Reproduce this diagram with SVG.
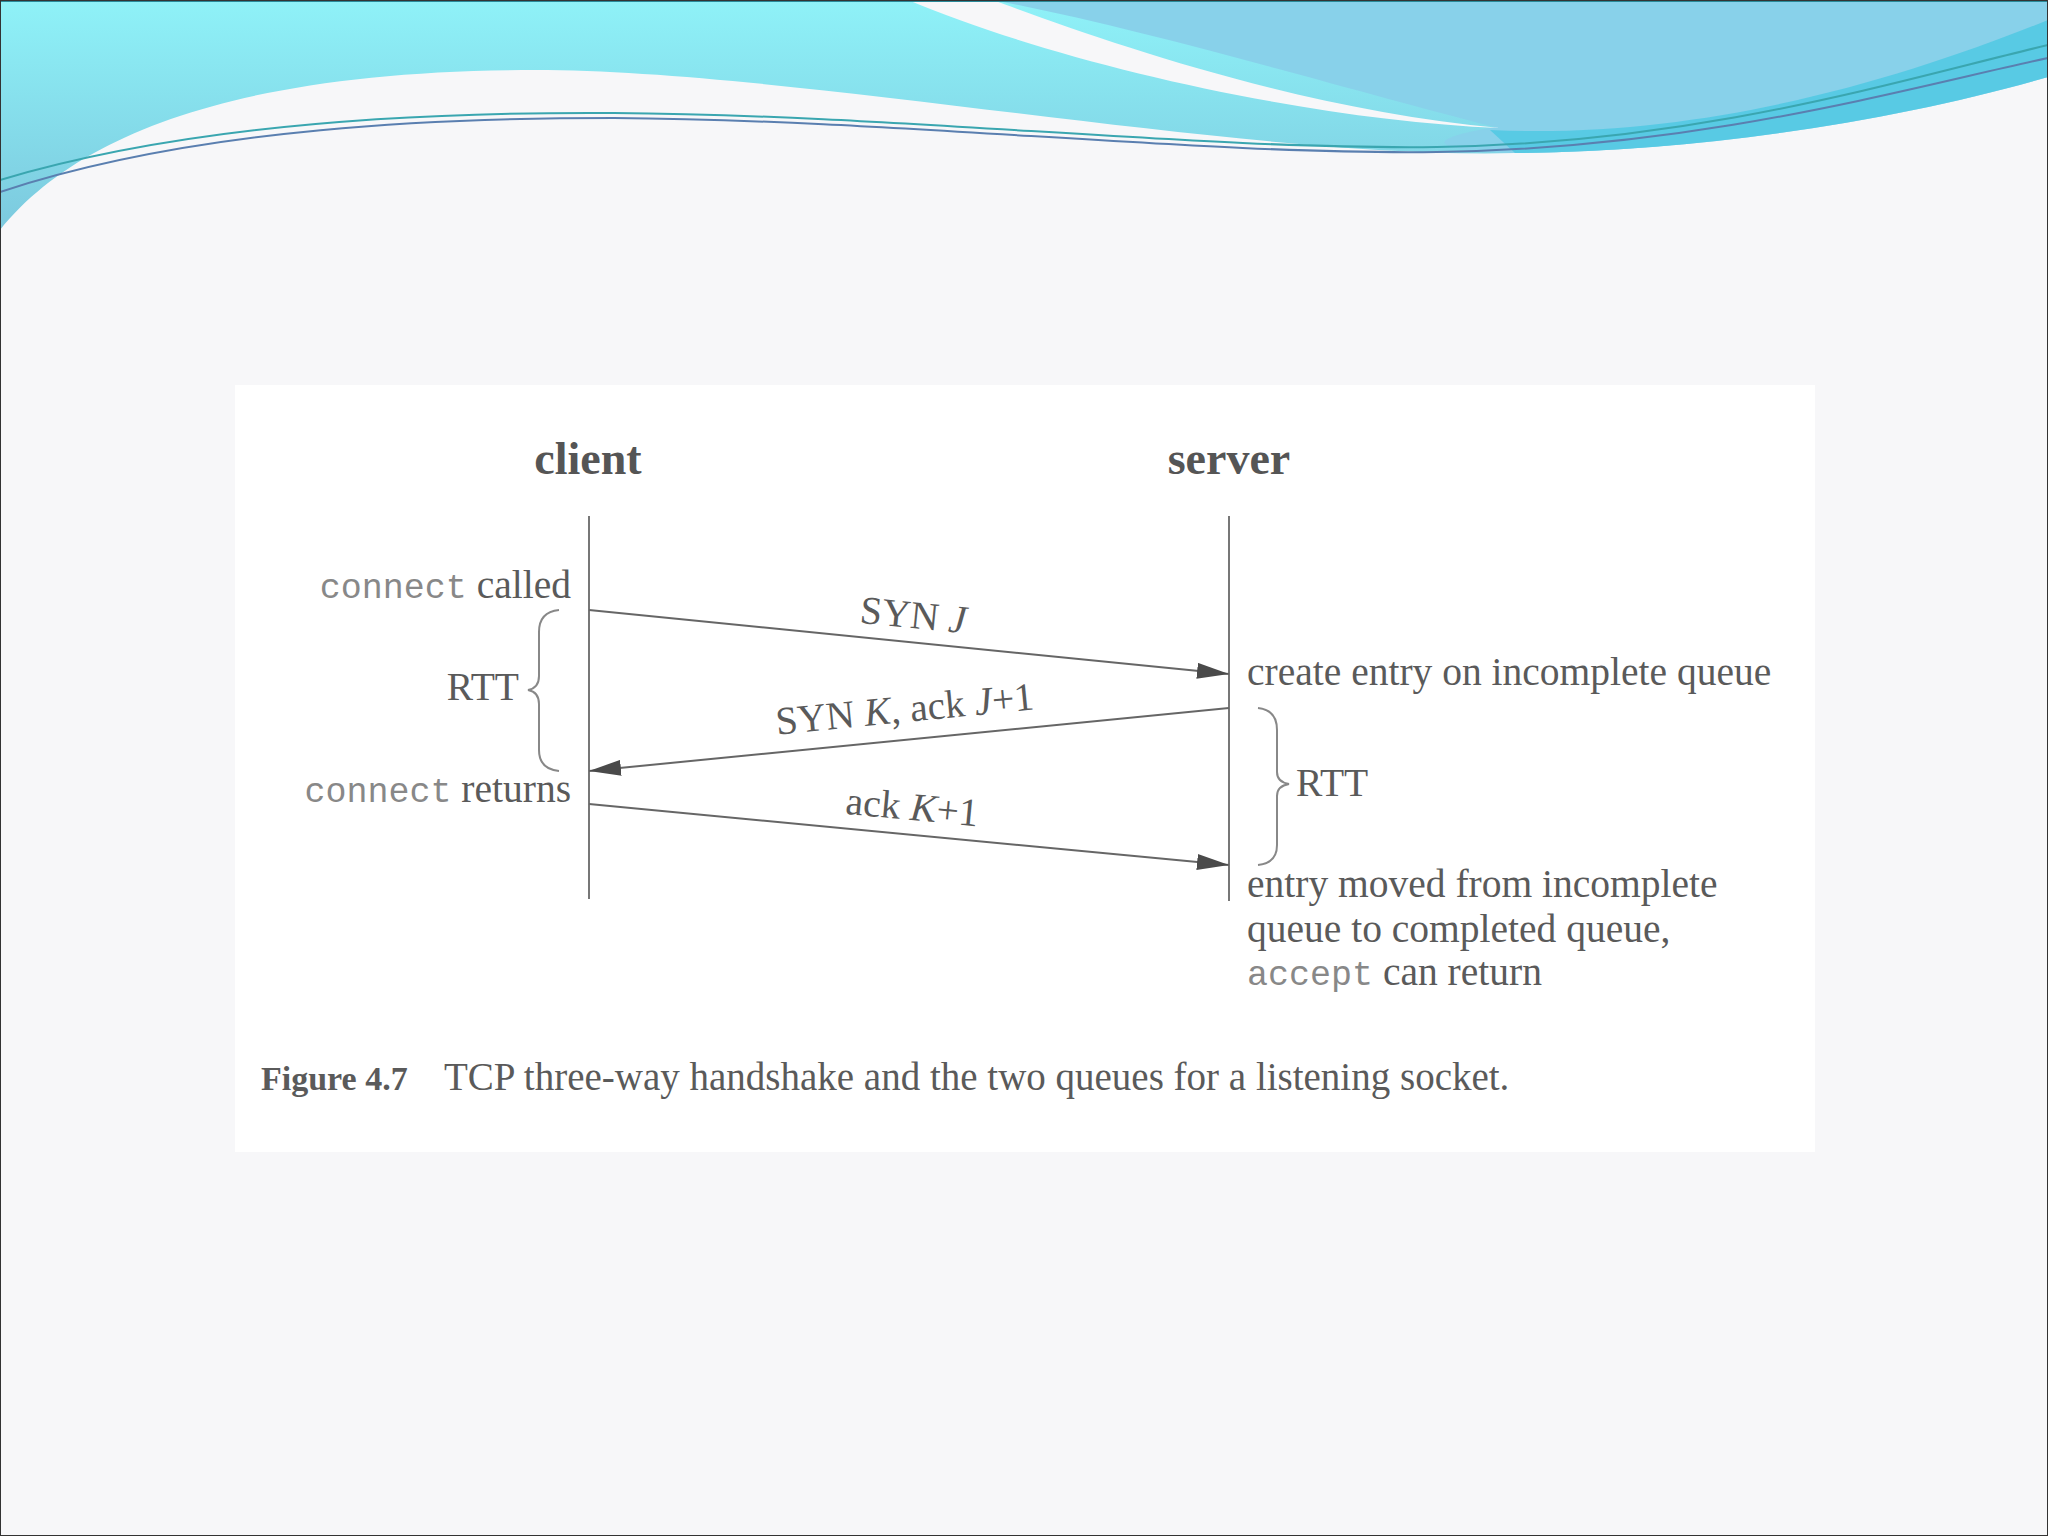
<svg xmlns="http://www.w3.org/2000/svg" width="2048" height="1536" viewBox="0 0 2048 1536">
<defs>
<linearGradient id="cy" x1="0" y1="0" x2="0" y2="1">
<stop offset="0" stop-color="#8ff2f8"/>
<stop offset="1" stop-color="#7cc9de"/>
</linearGradient>
<marker id="ah" markerWidth="34" markerHeight="16" refX="32" refY="8" orient="auto" markerUnits="userSpaceOnUse">
<path d="M0,0 L32,8 L0,16 Z" fill="#4a4a4a"/>
</marker>
<style>
.t{font-family:"Liberation Serif","Times New Roman",serif;fill:#5a5a5a;font-size:39.5px}
.m{font-family:"Liberation Mono","Courier New",monospace;fill:#888;font-size:35px}
.h{font-family:"Liberation Serif","Times New Roman",serif;fill:#555;font-size:46px;font-weight:bold}
.c{font-family:"Liberation Serif","Times New Roman",serif;fill:#5a5a5a;font-size:39px}
.ln{stroke:#777;stroke-width:2;fill:none}
.ar{stroke:#666;stroke-width:2;fill:none;marker-end:url(#ah)}
.br{stroke:#888;stroke-width:2;fill:none}
</style>
</defs>
<rect x="0" y="0" width="2048" height="1536" fill="#f7f7f9"/>
<g id="decor">
<path d="M0,0 L2048,0 L2048,77 C1900,110 1750,150 1515,153 C1250,160 800,70 535,70 C250,70 80,130 0,230 Z" fill="url(#cy)"/>
<path d="M993,0 L2048,0 L2048,77 C1900,120 1700,152 1515,153 C1430,150 1420,140 1495,127 C1350,90 1150,30 993,0 Z" fill="#88d1ea"/>
<path d="M2048,20 L2048,77 C1900,120 1700,152 1515,153 L1490,130 C1700,140 1900,80 2048,20 Z" fill="#4cc8e2" opacity="0.8"/>
<path d="M908,0 L993,0 C1100,40 1300,110 1500,128 C1300,120 1050,60 908,0 Z" fill="#f7f7f9"/>
<path d="M0,180 C200,120 450,112 614,113 C900,115 1200,150 1437,147 C1700,143 1900,80 2048,45" fill="none" stroke="#3aa6b0" stroke-width="2"/>
<path d="M0,192 C200,126 450,118 614,118 C900,120 1200,155 1437,152 C1700,148 1900,90 2048,58" fill="none" stroke="#5a7fb0" stroke-width="2"/>
<path d="M0,0 L2048,0" stroke="#2a8a9a" stroke-width="4"/>
</g>
<rect x="0.5" y="0.5" width="2047" height="1535" fill="none" stroke="#333" stroke-width="1"/>
<rect id="figure" x="235" y="385" width="1580" height="767" fill="#ffffff"/>
<g id="client">
<text class="h" x="588" y="474" text-anchor="middle">client</text>
<line class="ln" x1="589" y1="516" x2="589" y2="899"/>
</g>
<g id="server">
<text class="h" x="1229" y="474" text-anchor="middle">server</text>
<line class="ln" x1="1229" y1="516" x2="1229" y2="901"/>
</g>
<g id="client-notes">
<text x="571" y="598" text-anchor="end"><tspan class="m">connect</tspan><tspan class="t"> called</tspan></text>
<text x="571" y="802" text-anchor="end"><tspan class="m">connect</tspan><tspan class="t"> returns</tspan></text>
<text class="t" x="519" y="700" text-anchor="end">RTT</text>
<path class="br" d="M559,610 Q539,612 539,632 L539,676 Q539,688 528,690 Q539,692 539,704 L539,750 Q539,769 559,771"/>
</g>
<g id="server-notes">
<text class="t" x="1247" y="685">create entry on incomplete queue</text>
<path class="br" d="M1258,708 Q1277,710 1277,730 L1277,772 Q1277,782 1289,784 Q1277,786 1277,796 L1277,845 Q1277,863 1258,865"/>
<text class="t" x="1296" y="796">RTT</text>
<text class="t" x="1247" y="897">entry moved from incomplete</text>
<text class="t" x="1247" y="942">queue to completed queue,</text>
<text x="1247" y="985"><tspan class="m">accept</tspan><tspan class="t"> can return</tspan></text>
</g>
<g id="connectors">
<line class="ar" x1="589" y1="610" x2="1229" y2="674"/>
<line class="ar" x1="1229" y1="708" x2="589" y2="771"/>
<line class="ar" x1="589" y1="804" x2="1229" y2="865"/>
<text class="t" transform="translate(912,628) rotate(5.7)" text-anchor="middle">SYN <tspan font-style="italic">J</tspan></text>
<text class="t" transform="translate(906,722) rotate(-5.6)" text-anchor="middle">SYN <tspan font-style="italic">K</tspan>, ack <tspan font-style="italic">J</tspan>+1</text>
<text class="t" transform="translate(911,820) rotate(5.4)" text-anchor="middle">ack <tspan font-style="italic">K</tspan>+1</text>
</g>
<g id="caption">
<text class="c" x="261" y="1090"><tspan font-weight="bold" font-size="34">Figure 4.7</tspan><tspan x="444">TCP three-way handshake and the two queues for a listening socket.</tspan></text>
</g>
</svg>
